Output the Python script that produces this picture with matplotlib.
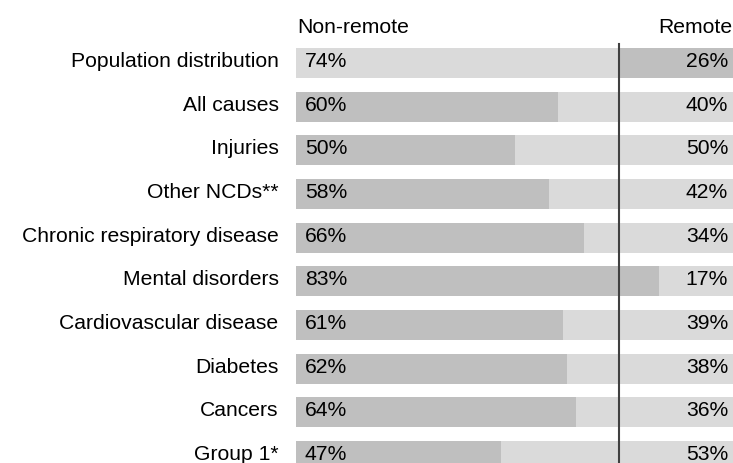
import matplotlib
matplotlib.use('Agg')
import matplotlib.pyplot as plt

categories = ['Population distribution', 'All causes', 'Injuries', 'Other NCDs**',
              'Chronic respiratory disease', 'Mental disorders', 'Cardiovascular disease',
              'Diabetes', 'Cancers', 'Group 1*']
non_remote = [74, 60, 50, 58, 66, 83, 61, 62, 64, 47]
remote = [26, 40, 50, 42, 34, 17, 39, 38, 36, 53]

dark = '#BFBFBF'
light = '#DADADA'
fs = 15.2

plt.rcParams['font.family'] = ['Liberation Sans', 'DejaVu Sans']

fig = plt.figure(figsize=(7.33, 4.64), dpi=100)
ax = fig.add_axes([296 / 733, 0, 437 / 733, 1])

for i, (nr, rm) in enumerate(zip(non_remote, remote)):
    # first row (population) uses swapped shading
    c1, c2 = (light, dark) if i == 0 else (dark, light)
    ax.barh(i, nr, height=0.687, color=c1, linewidth=0)
    ax.barh(i, rm, left=nr, height=0.687, color=c2, linewidth=0)
    ax.text(2, i - 0.06, '{}%'.format(nr), ha='left', va='center', fontsize=fs)
    ax.text(98.9, i - 0.06, '{}%'.format(rm), ha='right', va='center', fontsize=fs)
    ax.text(-4, i - 0.06, categories[i], ha='right', va='center', fontsize=fs, clip_on=False)

ax.plot([non_remote[0], non_remote[0]], [-0.435, 9.3], color='#404040', lw=1.5)

ax.text(0.4, -0.71, 'Non-remote', ha='left', va='baseline', fontsize=fs)
ax.text(99.9, -0.71, 'Remote', ha='right', va='baseline', fontsize=fs)

ax.set_xlim(0, 100)
ax.set_ylim(9.16, -1.466)
ax.axis('off')

fig.savefig('out.png', dpi=100)
